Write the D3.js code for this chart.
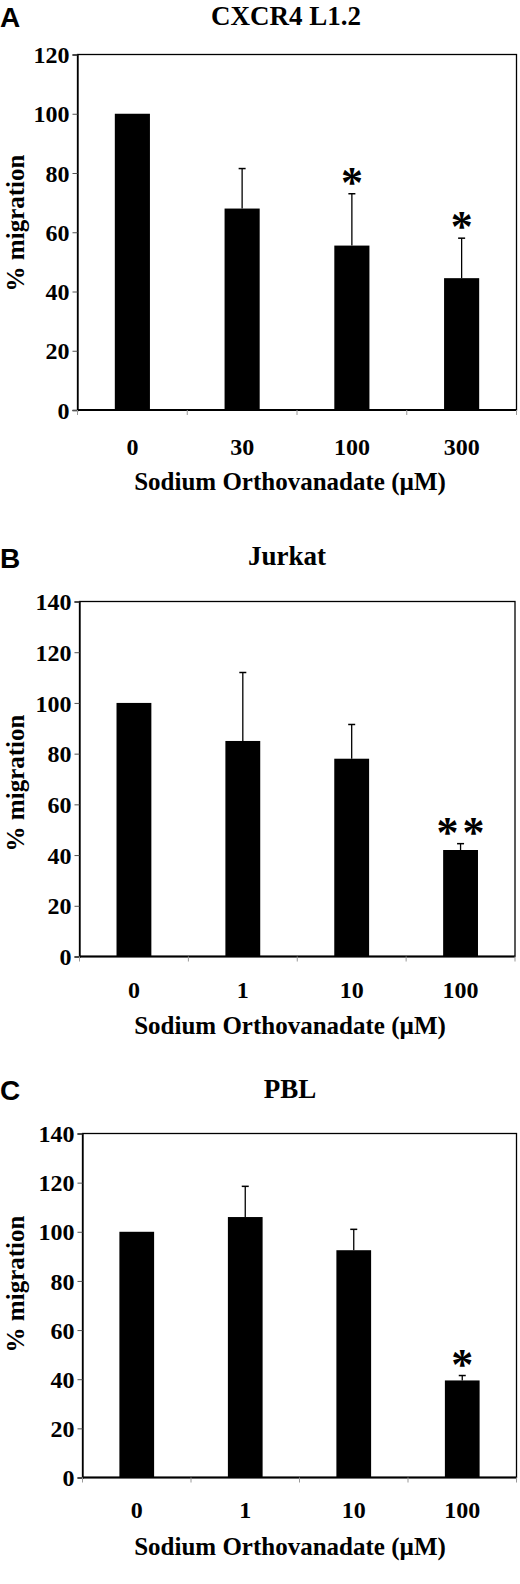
<!DOCTYPE html>
<html>
<head>
<meta charset="utf-8">
<script src="https://cdn.jsdelivr.net/npm/d3@7"></script>
<style>
  html, body { margin: 0; padding: 0; background: #fff; }
  svg { display: block; }
  text { font-family: "Liberation Serif", "Times New Roman", serif; font-weight: bold; fill: #000; }
  .letter { font-family: "Liberation Sans", Arial, sans-serif; }
</style>
</head>
<body>
<svg id="chart" width="520" height="1584"></svg>
<script>
// ---- data ----
const panelLetters = ["A", "B", "C"];
const panelTitles = ["CXCR4 L1.2", "Jurkat", "PBL"];
const xAxisTitle = "Sodium Orthovanadate (\u00b5M)";
const yAxisTitle = "% migration";

const categoriesA = ["0", "30", "100", "300"];
const valuesA = [100, 68, 55.5, 44.5];
const errorsA = [0, 13.5, 17.5, 13.5];
const starsA = ["", "", "*", "*"];
const yTicksA = [0, 20, 40, 60, 80, 100, 120];

const categoriesB = ["0", "1", "10", "100"];
const valuesB = [100, 85, 78, 42];
const errorsB = [0, 27, 13.5, 2.5];
const starsB = ["", "", "", "* *"];
const yTicksB = [0, 20, 40, 60, 80, 100, 120, 140];

const categoriesC = ["0", "1", "10", "100"];
const valuesC = [100, 106, 92.5, 39.5];
const errorsC = [0, 12.5, 8.5, 2];
const starsC = ["", "", "", "*"];
const yTicksC = [0, 20, 40, 60, 80, 100, 120, 140];

// ---- layout (positions only) ----
const layouts = [
  { L: 77.5, R: 516.5, T: 54.5, B: 410, titleX: 286, titleY: 25, letterY: 27, yTitleCY: 223, xLabY: 455, xTitleY: 490 },
  { L: 79.5, R: 515, T: 601.5, B: 956.5, titleX: 287, titleY: 565, letterY: 568, yTitleCY: 783, xLabY: 998, xTitleY: 1034 },
  { L: 82.5, R: 516.5, T: 1133.5, B: 1477.5, titleX: 290, titleY: 1098, letterY: 1100, yTitleCY: 1284, xLabY: 1518, xTitleY: 1555 }
];

const panels = [
  { cats: categoriesA, vals: valuesA, errs: errorsA, stars: starsA, ticks: yTicksA },
  { cats: categoriesB, vals: valuesB, errs: errorsB, stars: starsB, ticks: yTicksB },
  { cats: categoriesC, vals: valuesC, errs: errorsC, stars: starsC, ticks: yTicksC }
];

const svg = d3.select("#chart");

panels.forEach((p, i) => {
  const lay = layouts[i];
  const g = svg.append("g");
  const yMax = d3.max(p.ticks);

  const x = d3.scaleBand().domain(p.cats).range([lay.L, lay.R]).paddingInner(0).paddingOuter(0);
  const y = d3.scaleLinear().domain([0, yMax]).range([lay.B, lay.T]);
  const barW = x.bandwidth() * 0.32;

  // panel letter
  g.append("text").attr("class", "letter")
    .attr("x", 0).attr("y", lay.letterY)
    .attr("font-size", 28).text(panelLetters[i]);

  // title
  g.append("text").attr("x", lay.titleX).attr("y", lay.titleY)
    .attr("text-anchor", "middle").attr("font-size", 27).text(panelTitles[i]);

  // frame
  g.append("rect")
    .attr("x", lay.L).attr("y", lay.T)
    .attr("width", lay.R - lay.L).attr("height", lay.B - lay.T)
    .attr("fill", "none").attr("stroke", "#000").attr("stroke-width", 1.3);

  // y axis
  const yAxis = d3.axisLeft(y).tickValues(p.ticks).tickSize(5).tickPadding(3).tickFormat(d3.format("d"));
  const ya = g.append("g").attr("transform", `translate(${lay.L},0)`).call(yAxis);
  ya.select(".domain").attr("stroke", "#000").attr("stroke-width", 1.3);
  ya.selectAll(".tick line").attr("stroke", "#555").attr("stroke-width", 1);
  ya.selectAll(".tick text")
    .attr("font-size", 24).attr("font-family", "Liberation Serif, Times New Roman, serif")
    .attr("font-weight", "bold").attr("fill", "#000").attr("dy", "0.34em");

  // x axis baseline
  g.append("line").attr("x1", lay.L).attr("x2", lay.R)
    .attr("y1", y(0)).attr("y2", y(0))
    .attr("stroke", "#000").attr("stroke-width", 1.8);

  // x boundary ticks
  const bounds = p.cats.map(c => x(c)).concat([x(p.cats[p.cats.length - 1]) + x.bandwidth()]);
  g.selectAll(".xtick").data(bounds).join("line")
    .attr("x1", d => d).attr("x2", d => d)
    .attr("y1", y(0)).attr("y2", y(0) + 5)
    .attr("stroke", "#999").attr("stroke-width", 1);

  // x tick labels
  g.selectAll(".xlab").data(p.cats).join("text")
    .attr("x", d => x(d) + x.bandwidth() / 2).attr("y", lay.xLabY)
    .attr("text-anchor", "middle").attr("font-size", 24).text(d => d);

  // x title
  g.append("text").attr("x", 290).attr("y", lay.xTitleY)
    .attr("text-anchor", "middle").attr("font-size", 25).text(xAxisTitle);

  // y title
  g.append("text")
    .attr("transform", `translate(24,${lay.yTitleCY}) rotate(-90)`)
    .attr("text-anchor", "middle").attr("font-size", 25).text(yAxisTitle);

  const data = p.cats.map((c, k) => ({ c, v: p.vals[k], e: p.errs[k], s: p.stars[k] }));

  // error bars (upper only)
  const eb = data.filter(d => d.e > 0);
  g.selectAll(".err").data(eb).join("line")
    .attr("x1", d => x(d.c) + x.bandwidth() / 2).attr("x2", d => x(d.c) + x.bandwidth() / 2)
    .attr("y1", d => y(d.v)).attr("y2", d => y(d.v + d.e))
    .attr("stroke", "#000").attr("stroke-width", 1.3);
  g.selectAll(".cap").data(eb).join("line")
    .attr("x1", d => x(d.c) + x.bandwidth() / 2 - 3.5).attr("x2", d => x(d.c) + x.bandwidth() / 2 + 3.5)
    .attr("y1", d => y(d.v + d.e)).attr("y2", d => y(d.v + d.e))
    .attr("stroke", "#000").attr("stroke-width", 1.5);

  // bars
  g.selectAll(".bar").data(data).join("rect")
    .attr("x", d => x(d.c) + (x.bandwidth() - barW) / 2)
    .attr("width", barW)
    .attr("y", d => y(d.v))
    .attr("height", d => y(0) - y(d.v))
    .attr("fill", "#000");

  // significance stars
  g.selectAll(".star").data(data.filter(d => d.s)).join("text")
    .attr("x", d => x(d.c) + x.bandwidth() / 2)
    .attr("y", d => y(d.v + d.e) - 18)
    .attr("dy", "0.48em")
    .attr("text-anchor", "middle")
    .attr("font-size", 44)
    .attr("word-spacing", "-7px")
    .text(d => d.s);
});
</script>
</body>
</html>
